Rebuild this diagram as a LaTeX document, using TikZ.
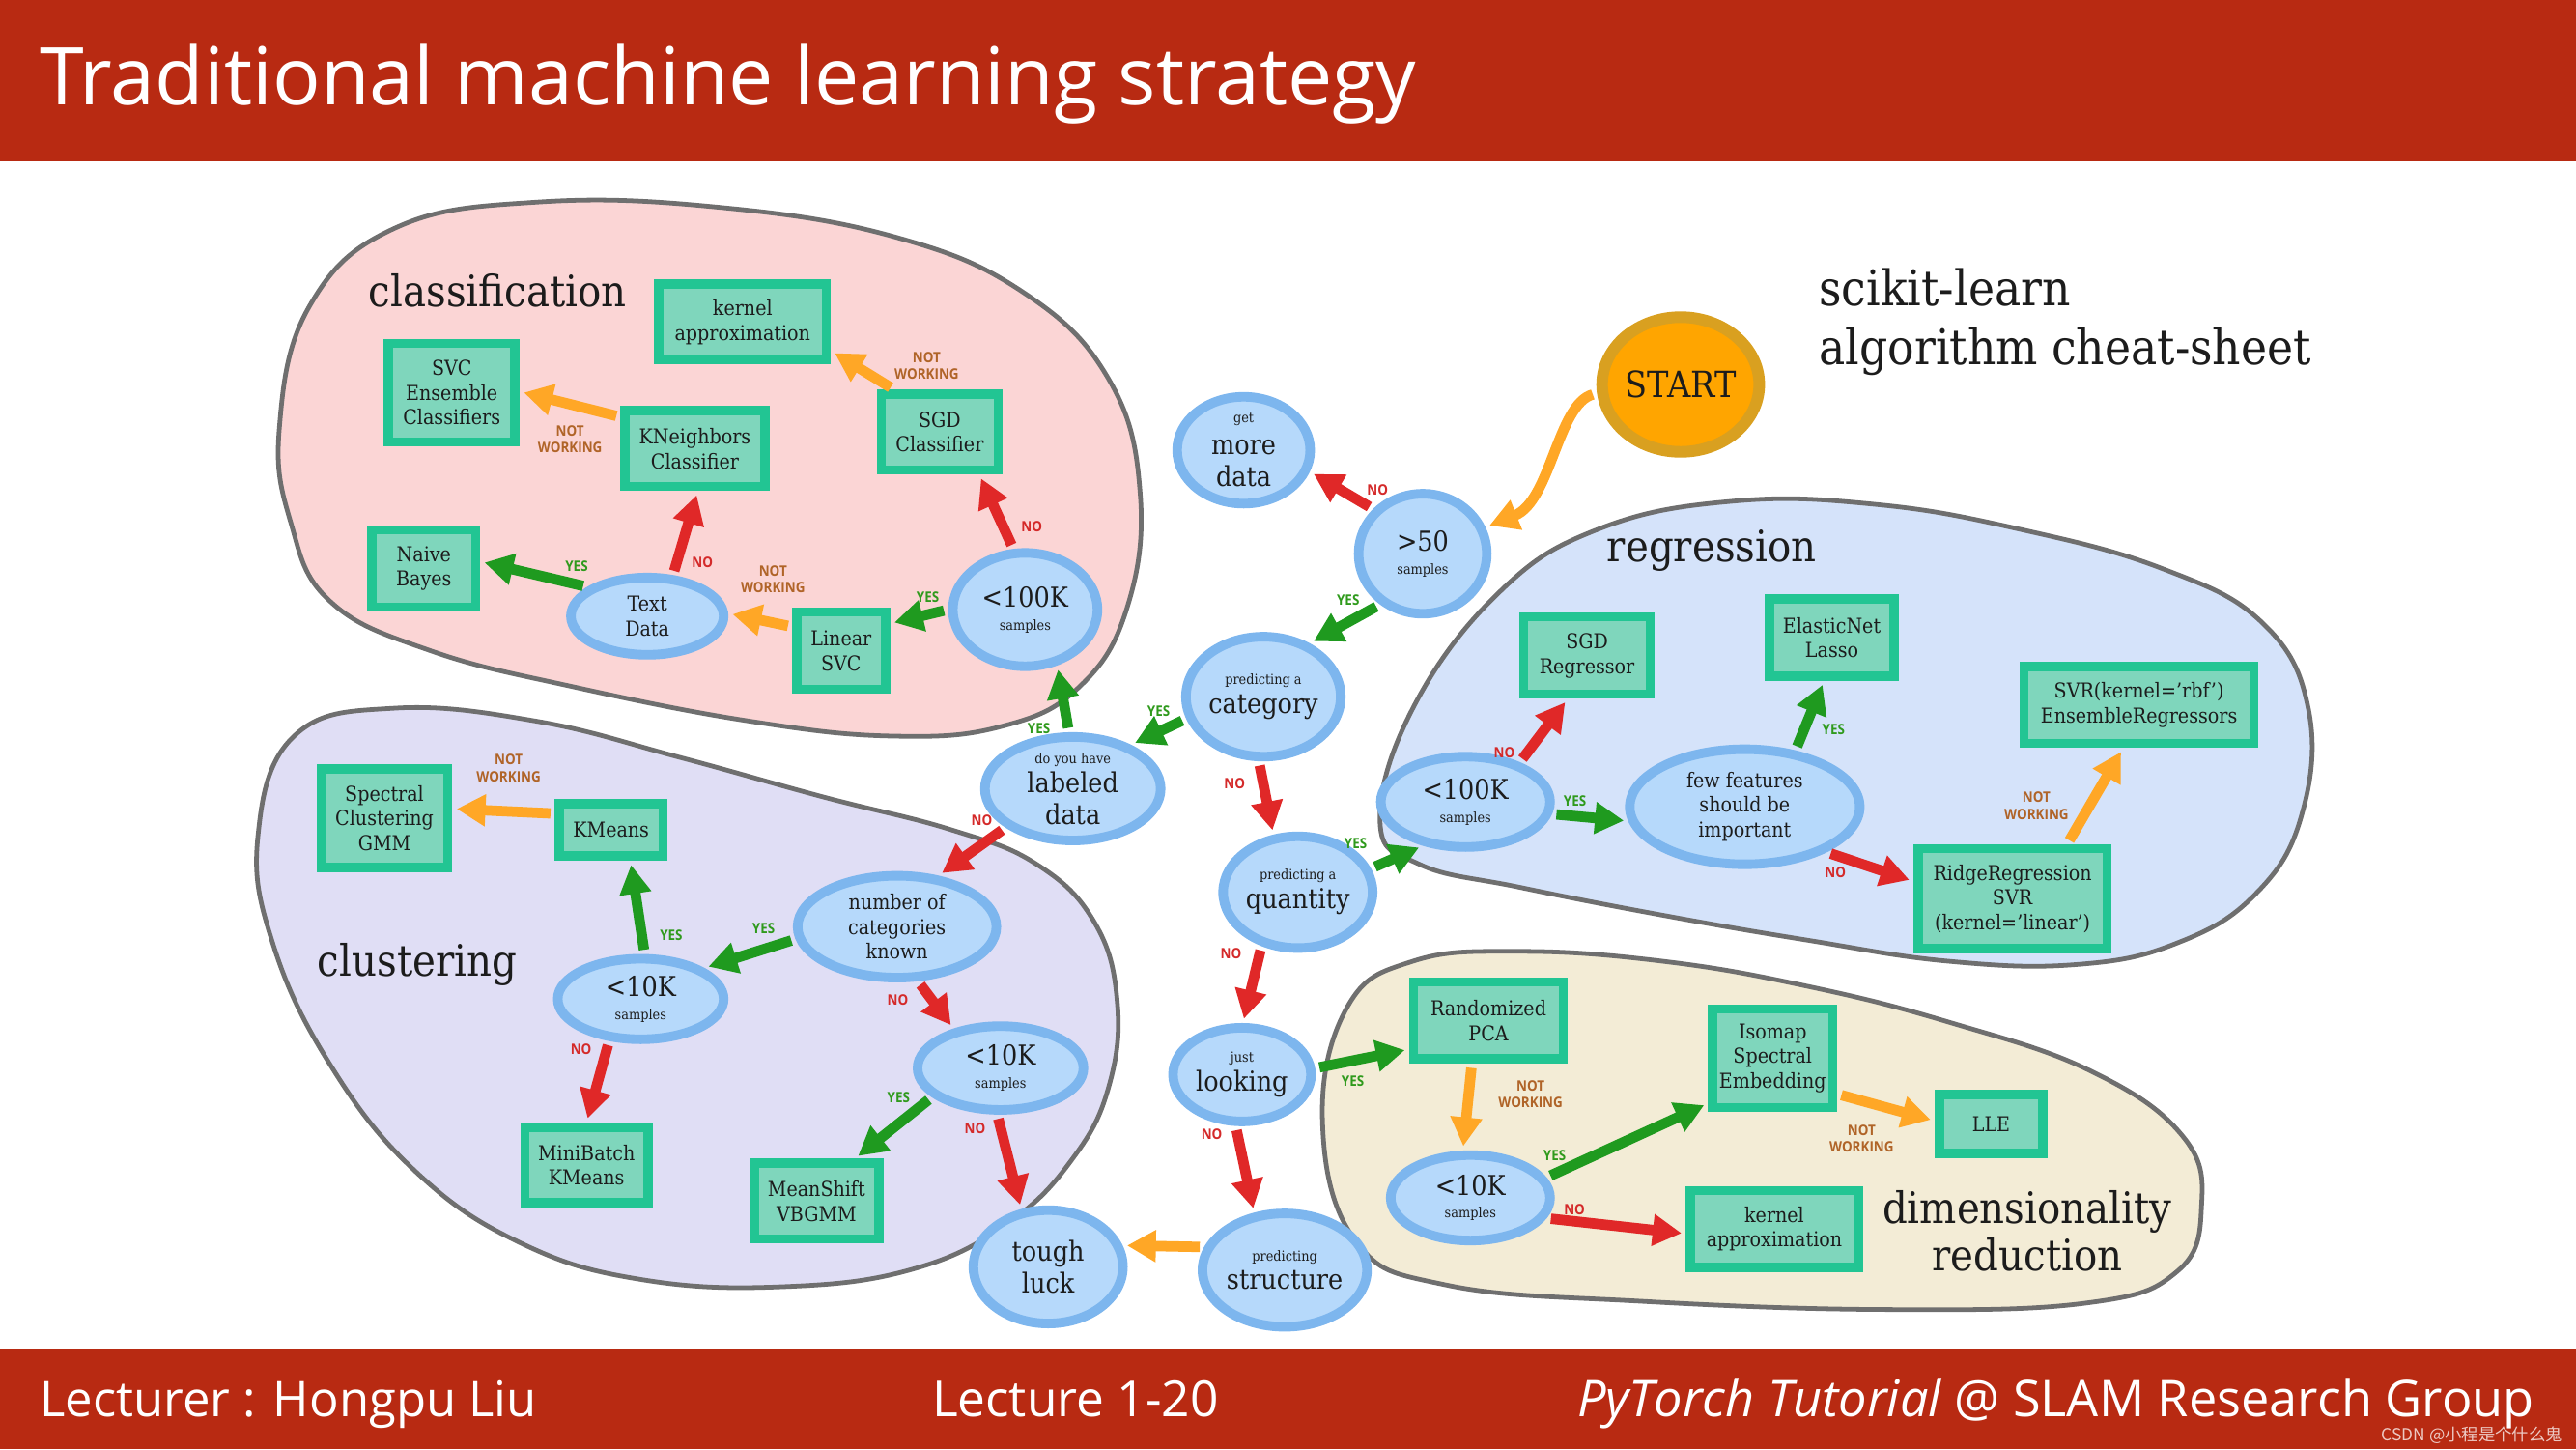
\documentclass[tikz,border=0pt]{standalone}
\usepackage{fontspec}
\setmainfont{DejaVu Serif}[FakeStretch=0.9]
\newfontfamily\slidefont{Open Sans}
\newfontfamily\tagfont{Open Sans}[FakeStretch=0.9]
\newfontfamily\cjkfont{Noto Sans CJK SC}
\usetikzlibrary{positioning,arrows.meta,shapes.geometric,shadows}
\definecolor{bar}{HTML}{B82A12}
\definecolor{ink}{HTML}{1C1C1C}
\definecolor{qfill}{HTML}{B6D9FB}
\definecolor{qring}{HTML}{7DB6EE}
\definecolor{afill}{HTML}{7FD6BC}
\definecolor{aring}{HTML}{22C593}
\definecolor{sfill}{HTML}{FFA500}
\definecolor{sring}{HTML}{D9A020}
\definecolor{clsbg}{HTML}{FBD5D5}
\definecolor{clubg}{HTML}{E0DEF5}
\definecolor{regbg}{HTML}{D5E3FA}
\definecolor{dimbg}{HTML}{F3ECD6}
\definecolor{rim}{HTML}{6F6F6F}
\definecolor{gyes}{HTML}{1F9A1F}
\definecolor{rno}{HTML}{E02828}
\definecolor{onw}{HTML}{FFA726}
\definecolor{yescol}{HTML}{2F9A1C}
\definecolor{nocol}{HTML}{D42A2A}
\definecolor{nwcol}{HTML}{B06428}
\newcommand{\qbig}{\fontsize{9.5}{11}\selectfont}
\newcommand{\qmed}{\fontsize{7.1}{8.6}\selectfont}
\newcommand{\qsmall}{\fontsize{4.8}{5.6}\selectfont}

\begin{document}
\begin{tikzpicture}[x=0.02cm, y=-0.02cm,
  dec/.style 2 args={ellipse, draw=qring, fill=qfill, line width=3.3pt, minimum width=#1*0.02cm, minimum height=#2*0.02cm, inner sep=0pt, align=center, text=ink, font=\qbig, drop shadow={shadow xshift=1pt, shadow yshift=-1.2pt, opacity=0.3}},
  algo/.style 2 args={draw=aring, fill=afill, line width=3.2pt, minimum width=#1*0.02cm, minimum height=#2*0.02cm, inner sep=0pt, align=center, text=ink, font=\qmed, drop shadow={shadow xshift=1pt, shadow yshift=-1.2pt, opacity=0.3}},
  zone/.style={draw=rim, line width=1.6pt, fill=#1},
  zonelab/.style={text=ink, align=center, font=\fontsize{15}{16.5}\selectfont},
  arr/.style={-{Triangle[length=10pt, width=10.5pt]}, line width=3.6pt, draw=#1, shorten <=1.5pt, shorten >=1.5pt},
  tagtxt/.style={text=#1, inner sep=0.5pt, align=center, font=\tagfont\bfseries\fontsize{5}{5.8}\selectfont},
  tyes/.style={tagtxt=yescol}, tno/.style={tagtxt=nocol}, tnw/.style={tagtxt=nwcol}]
\useasboundingbox (0,0) rectangle (1568,882);
% ---------------- slide frame
\fill[bar] (0,0) rectangle (1568,98);
\fill[bar] (0,821) rectangle (1568,882);
\node[anchor=base west, inner sep=0pt, text=white, font=\slidefont\fontsize{27.6}{30}\selectfont] (title) at (24,64) {Traditional machine learning strategy};
\node[anchor=base west, inner sep=0pt, text=white, font=\slidefont\fontsize{17}{20}\selectfont] (lect) at (24,862) {Lecturer : Hongpu Liu};
\node[anchor=base west, inner sep=0pt, text=white, font=\slidefont\fontsize{17.2}{20}\selectfont] (num) at (567,862) {Lecture 1-20};
\node[anchor=base east, inner sep=0pt, text=white, font=\slidefont\fontsize{17.5}{20}\selectfont] (group) at (1543,862) {\itshape PyTorch Tutorial\upshape\ @ SLAM Research Group};
\node[anchor=base east, inner sep=0pt, text=white, opacity=0.75, font=\cjkfont\fontsize{5.8}{6.5}\selectfont] (mark) at (1560,877) {CSDN @小程是个什么鬼};
% ---------------- zones
\draw[zone=clsbg] plot[smooth cycle, tension=0.7] coordinates {(170,261) (188,187) (240,139) (327,123) (436,126) (544,144) (623,178) (675,231) (694,300) (686,370) (657,418) (610,442) (544,448) (457,439) (349,418) (262,396) (201,366) (177,318)};
\draw[zone=clubg] plot[smooth cycle, tension=0.7] coordinates {(157,509) (179,448) (240,431) (327,439) (414,461) (501,485) (579,505) (631,526) (666,561) (680,609) (675,661) (653,705) (614,744) (557,772) (479,783) (392,779) (318,757) (253,713) (201,648) (166,574)};
\draw[zone=regbg] plot[smooth cycle, tension=0.7] coordinates {(840,500) (860,431) (912,361) (973,322) (1055,305) (1142,307) (1229,322) (1316,346) (1377,379) (1405,431) (1401,496) (1373,544) (1325,574) (1264,587) (1186,585) (1099,572) (1012,557) (925,540) (864,526)};
\draw[zone=dimbg] plot[smooth cycle, tension=0.7] coordinates {(805,683) (820,613) (860,585) (925,579) (1012,585) (1099,600) (1186,622) (1273,652) (1329,692) (1340,735) (1325,774) (1270,793) (1150,797) (1000,792) (880,782) (825,755)};
\node[zonelab] (clslab) at (303,177) {classification};
\node[zonelab] (clulab) at (254,587) {clustering};
\node[zonelab] (reglab) at (1042,335) {regression};
\node[zonelab] (dimlab) at (1234,749) {dimensionality\\reduction};
\node[anchor=west, inner sep=0pt, align=left, text=ink, font=\fontsize{17}{20.4}\selectfont] (sheet) at (1107,196) {scikit-learn\\algorithm cheat-sheet};
% ---------------- trunk
\node[dec={94}{82}, fill=sfill, draw=sring, line width=4pt, font=\fontsize{12.5}{14}\selectfont] (start) at (1023,234) {START};
\node[dec={78}{73}] (gt50) at (866,337) {>50\\[-3pt]{\qsmall samples}};
\node[dec={81}{65}] (more) at (757,274) {{\qsmall get}\\more\\data};
\node[dec={91}{73}] (cat) at (769,424) {{\qsmall predicting a}\\[-1pt]category};
\node[dec={107}{63}] (labeled) at (653,480) {{\qsmall do you have}\\[-1pt]labeled\\data};
\node[dec={91}{68}] (quant) at (790,543) {{\qsmall predicting a}\\[-1pt]quantity};
\node[dec={84}{57}] (looking) at (756,654) {{\qsmall just}\\[-1pt]looking};
\node[dec={93}{69}] (struct) at (782,773) {{\qsmall predicting}\\[-1pt]structure};
\node[dec={91}{69}] (tough) at (638,771) {tough\\luck};
% ---------------- classification
\node[dec={88}{69}] (cls100) at (624,371) {<100K\\[-3pt]{\qsmall samples}};
\node[algo={71}{46}] (sgdc) at (572,263) {SGD\\Classifier};
\node[algo={102}{46}] (kerc) at (452,196) {kernel\\approximation};
\node[algo={85}{46}] (kng) at (423,273) {KNeighbors\\Classifier};
\node[algo={77}{60}] (svc) at (275,239) {SVC\\Ensemble\\Classifiers};
\node[algo={63}{47}] (naive) at (258,346) {Naive\\Bayes};
\node[algo={54}{47}] (linsvc) at (512,396) {Linear\\SVC};
\node[dec={93}{47}, font=\qmed] (textd) at (394,375) {Text\\Data};
% ---------------- clustering
\node[dec={121}{62}, font=\qmed] (numcat) at (546,564) {number of\\categories\\known};
\node[dec={101}{49}] (c10l) at (390,608) {<10K\\[-3pt]{\qsmall samples}};
\node[dec={101}{51}] (c10r) at (609,650) {<10K\\[-3pt]{\qsmall samples}};
\node[algo={63}{32}] (kmeans) at (372,505) {KMeans};
\node[algo={77}{60}] (spec) at (234,498) {Spectral\\Clustering\\GMM};
\node[algo={75}{46}] (minib) at (357,709) {MiniBatch\\KMeans};
\node[algo={76}{46}] (means) at (497,731) {MeanShift\\VBGMM};
% ---------------- regression
\node[dec={103}{55}] (reg100) at (892,488) {<100K\\[-3pt]{\qsmall samples}};
\node[dec={140}{70}, font=\qmed] (few) at (1062,491) {few features\\should be\\important};
\node[algo={77}{47}] (sgdr) at (966,399) {SGD\\Regressor};
\node[algo={76}{47}] (elast) at (1115,388) {ElasticNet\\Lasso};
\node[algo={140}{47}] (svr) at (1302,429) {SVR(kernel='rbf')\\EnsembleRegressors};
\node[algo={115}{61}] (ridge) at (1225,547) {RidgeRegression\\SVR\\(kernel='linear')};
% ---------------- dimensionality reduction
\node[algo={91}{47}] (pca) at (906,621) {Randomized\\PCA};
\node[dec={97}{52}] (c10d) at (895,729) {<10K\\[-3pt]{\qsmall samples}};
\node[algo={73}{60}] (iso) at (1079,644) {Isomap\\Spectral\\Embedding};
\node[algo={63}{36}] (lle) at (1212,684) {LLE};
\node[algo={102}{47}] (kerd) at (1080,748) {kernel\\approximation};
% ---------------- trunk arrows
\draw[arr=onw] (start.186) .. controls (948,246) and (944,305) .. (gt50.23);
\draw[arr=rno] (gt50.138) -- node[tno, pos=0.2, above right]{NO} (more.342);
\draw[arr=gyes] (gt50.230) -- node[tyes, pos=0.2, above left]{YES} (cat.49);
\draw[arr=gyes] (cat.196) -- node[tyes, pos=0.5, above=3pt]{YES} (labeled.37);
\draw[arr=rno] (cat.266) -- node[tno, pos=0.3, left=4pt]{NO} (quant.113);
\draw[arr=gyes] (labeled.94) -- node[tyes, pos=0.05, left=4pt]{YES} (cls100.300);
\draw[arr=rno] (labeled.210) -- node[tno, pos=0.1, above left]{NO} (numcat.51);
\draw[arr=gyes] (quant.18) -- node[tyes, pos=0.05, above left=4pt and 0pt]{YES} (reg100.226);
\draw[arr=rno] (quant.236) -- node[tno, pos=0.1, left=4pt]{NO} (looking.89);
\draw[arr=gyes] (looking.5) -- node[tyes, pos=0.4, below=3pt]{YES} (pca.200);
\draw[arr=rno] (looking.263) -- node[tno, pos=0.1, left=3pt]{NO} (struct.118);
\draw[arr=onw] (struct.164) -- (tough.16);
% ---------------- classification arrows
\draw[arr=rno] (cls100.101) -- node[tno, pos=0.3, right=4pt]{NO} (sgdc.313);
\draw[arr=gyes] (cls100.180) -- node[tyes, pos=0.35, above=2pt]{YES} (linsvc.29);
\draw[arr=onw] (sgdc.137) -- node[tnw, pos=0.1, above right]{NOT\\WORKING} (kerc.342);
\draw[arr=onw] (linsvc.154) -- node[tnw, pos=0.3, above=8pt]{NOT\\WORKING} (textd.2);
\draw[arr=rno] (textd.58) -- node[tno, pos=0.15, right=3pt]{NO} (kng.274);
\draw[arr=gyes] (textd.154) -- node[tyes, pos=0.1, above=2pt]{YES} (naive.7);
\draw[arr=onw] (kng.157) -- node[tnw, pos=0.5, below=5pt]{NOT\\WORKING} (svc.1);
% ---------------- clustering arrows
\draw[arr=gyes] (numcat.187) -- node[tyes, pos=0.35, above=3pt]{YES} (c10l.26);
\draw[arr=rno] (numcat.291) -- node[tno, pos=0.4, left=6pt]{NO} (c10r.140);
\draw[arr=gyes] (c10l.85) -- node[tyes, pos=0.2, right=4pt]{YES} (kmeans.302);
\draw[arr=rno] (c10l.233) -- node[tno, pos=0.1, left=3pt]{NO} (minib.90);
\draw[arr=onw] (kmeans.164) -- node[tnw, pos=0.45, above=8pt]{NOT\\WORKING} (spec.8);
\draw[arr=gyes] (c10r.203) -- node[tyes, pos=0.2, above left]{YES} (means.48);
\draw[arr=rno] (c10r.266) -- node[tno, pos=0.15, left=3pt]{NO} (tough.115);
% ---------------- regression arrows
\draw[arr=rno] (reg100.36) -- node[tno, pos=0.15, left=2pt]{NO} (sgdr.246);
\draw[arr=gyes] (reg100.352) -- node[tyes, pos=0.3, above=1pt]{YES} (few.187);
\draw[arr=gyes] (few.48) -- node[tyes, pos=0.3, right=4pt]{YES} (elast.260);
\draw[arr=rno] (few.331) -- node[tno, pos=0.1, below=2pt]{NO} (ridge.170);
\draw[arr=onw] (ridge.45) -- node[tnw, pos=0.4, left=5pt]{NOT\\WORKING} (svr.250);
% ---------------- dimensionality reduction arrows
\draw[arr=onw] (pca.249) -- node[tnw, pos=0.35, right=8pt]{NOT\\WORKING} (c10d.99);
\draw[arr=gyes] (c10d.15) -- node[tyes, pos=0.05, above=2pt]{YES} (iso.215);
\draw[arr=rno] (c10d.345) -- node[tno, pos=0.2, above=0pt]{NO} (kerd.183);
\draw[arr=onw] (iso.331) -- node[tnw, pos=0.25, below=6pt]{NOT\\WORKING} (lle.177);
\end{tikzpicture}
\end{document}
